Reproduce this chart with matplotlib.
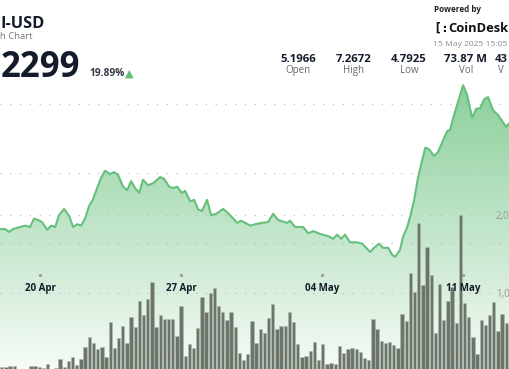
import numpy as np
import matplotlib
matplotlib.use("Agg")
import matplotlib.pyplot as plt
from matplotlib.colors import to_rgb

W, H = 510, 369

# price line: time in days since 18 Apr 00:00, price in USD
price_t = [0.01, 0.26, 0.46, 0.66, 1.01, 1.26, 1.50, 1.70, 1.90, 2.10, 2.35, 2.55,
           2.75, 2.94, 3.19, 3.44, 3.64, 3.84, 4.04, 4.23, 4.43, 4.63, 4.83, 5.03,
           5.23, 5.48, 5.67, 5.87, 6.12, 6.32, 6.52, 6.72, 6.92, 7.11, 7.36, 7.61,
           7.81, 7.96, 8.16, 8.41, 8.60, 8.80, 9.05, 9.20, 9.45, 9.65, 9.85, 10.04,
           10.29, 10.49, 10.74, 11.09, 11.33, 11.53, 11.78, 11.98, 12.18, 12.43,
           12.68, 13.02, 13.32, 13.57, 13.82, 14.26, 14.41, 14.66, 15.06, 15.31,
           15.56, 16.00, 16.30, 16.55, 16.75, 16.95, 17.14, 17.39, 17.74, 17.99,
           18.39, 18.58, 18.83, 19.03, 19.28, 19.48, 19.63, 19.87, 20.02, 20.22,
           20.42, 20.57, 20.77, 20.97, 21.12, 21.31, 21.56, 21.76, 22.01, 22.21,
           22.36, 22.51, 22.75, 23.00, 23.20, 23.45, 23.65, 23.85, 24.05, 24.24,
           24.49, 24.74, 25.14, 25.34]
price_p = [5.20, 5.20, 5.16, 5.20, 5.23, 5.25, 5.23, 5.35, 5.33, 5.30, 5.19, 5.25,
           5.23, 5.40, 5.49, 5.39, 5.23, 5.27, 5.25, 5.35, 5.53, 5.63, 5.79, 5.94,
           6.04, 5.99, 6.02, 5.98, 5.81, 5.76, 5.89, 5.79, 5.72, 5.91, 5.83, 5.86,
           5.91, 5.95, 5.92, 5.81, 5.79, 5.81, 5.72, 5.75, 5.60, 5.62, 5.48, 5.46,
           5.62, 5.40, 5.42, 5.49, 5.43, 5.37, 5.29, 5.32, 5.29, 5.25,
           5.27, 5.29, 5.30, 5.42, 5.33, 5.29, 5.32, 5.23, 5.23, 5.14,
           5.17, 5.12, 5.10, 5.06, 5.12, 5.06, 5.12, 5.01, 5.01, 4.99,
           4.87, 4.93, 4.99, 4.93, 4.93, 4.83, 4.80, 4.90, 5.09, 5.22,
           5.43, 5.62, 5.95, 6.19, 6.37, 6.35, 6.25, 6.31, 6.48, 6.61,
           6.63, 6.80, 7.03, 7.27, 7.13, 6.80, 6.93, 6.94, 7.07, 7.10,
           6.91, 6.84, 6.67, 6.74]

# volume per bar, millions
vol_m = [0.055, 0.051, 0.064, 0.068, 0.026, 0.029, 0.029, 0.064, 0.068, 0.051,
         0.038, 0.090, 0.026, 0.038, 0.154, 0.055, 0.132, 0.179, 0.081, 0.154,
         0.308, 0.440, 0.363, 0.282, 0.312, 0.183, 0.632, 0.299, 0.423, 0.577,
         0.363, 0.696, 0.568, 0.901, 0.718, 0.919, 1.145, 0.560, 0.718, 0.663,
         0.663, 0.663, 0.453, 0.837, 0.192, 0.342, 0.299, 0.547, 0.953, 0.753,
         0.996, 1.060, 0.833, 0.760, 0.654, 0.760, 0.560, 0.235, 0.141, 0.218,
         0.645, 0.355, 0.535, 0.491, 0.676, 0.855, 0.538, 0.581, 0.577, 0.760,
         0.632, 0.346, 0.176, 0.196, 0.256, 0.376, 0.141, 0.346, 0.086, 0.099,
         0.094, 0.321, 0.227, 0.286, 0.299, 0.286, 0.244, 0.163, 0.141, 0.671,
         0.538, 0.385, 0.355, 0.376, 0.333, 0.291, 0.731, 0.641, 1.253, 1.017,
         1.901, 1.103, 1.586, 1.231, 0.491, 1.112, 0.654, 0.901, 1.081, 0.619,
         2.000, 0.868, 0.696, 0.432, 0.218, 0.654, 0.590, 0.718, 0.888, 0.513,
         0.731, 0.619, 0.760]
vol_t0, vol_dt = 0.098, 0.207

date_ticks = [2, 9, 16, 23]
date_labels = ["20 Apr", "27 Apr", "04 May", "11 May"]
price_grid = [5, 6, 7]
vol_grid = [1, 2]
vol_grid_labels = ["1,0", "2,0"]

stat_values = ["5.1966", "7.2672", "4.7925", "73.87 M"]
stat_names = ["Open", "High", "Low", "Vol"]

plt.rcParams["font.family"] = ["Open Sans", "DejaVu Sans"]

GREEN = "#66c07b"
DARK = "#141b2b"
GREY = "#7a7a7a"

xlim = (0.01, 25.33)
plim = (3.187, 8.496)
vlim = (0.026, 4.756)


def fx(x):
    return x / W


def fy(y):
    return 1 - y / H


fig = plt.figure(figsize=(W / 100, H / 100), dpi=100)
fig.patch.set_facecolor("white")

ax = fig.add_axes([0, 0, 1, 1])
axv = fig.add_axes([0, 0, 1, 1])
axl = fig.add_axes([0, 0, 1, 1])
for a in (ax, axv, axl):
    a.set_xlim(*xlim)
    for s in a.spines.values():
        s.set_visible(False)
    a.tick_params(length=0, labelleft=False, labelbottom=False)
    a.set_xticks([])
    a.set_yticks([])
for a in (axv, axl):
    a.patch.set_visible(False)

# gradient area under the price line
t = np.array(price_t)
p = np.array(price_p)
n = 256
rgba = np.zeros((n, 1, 4))
rgba[..., :3] = to_rgb(GREEN)
rgba[..., 3] = np.linspace(0.06, 0.97, n)[:, None]
img = ax.imshow(rgba, extent=[xlim[0], xlim[1], plim[0], plim[1]],
                origin="lower", aspect="auto", zorder=1, interpolation="bilinear")
poly = ax.fill_between(t, p, plim[0], facecolor="none", edgecolor="none")
img.set_clip_path(poly.get_paths()[0], transform=ax.transData)
ax.set_xlim(*xlim)
ax.set_ylim(*plim)
ax.set_yticks(price_grid)
ax.grid(axis="y", color="#b8b8b8", linewidth=0.8, linestyle=(0, (1, 7.8)))
ax.set_axisbelow(False)

# volume bars
vol_t = vol_t0 + vol_dt * np.arange(len(vol_m))
axv.set_ylim(*vlim)
axv.set_yticks(vol_grid)
axv.grid(axis="y", color="#b8b8b8", linewidth=0.8, linestyle=(0, (1, 7.8)))
axv.set_axisbelow(True)
axv.bar(vol_t, vol_m, width=vol_dt * 0.8, color="#6b7569",
        edgecolor="#b3bbb2", linewidth=0.4, zorder=2)
for v, lab in zip(vol_grid, vol_grid_labels):
    axv.text(496 / W, v, lab, transform=axv.get_yaxis_transform(),
             ha="left", va="center_baseline", fontsize=7, color="#9a9a9a")

# price line
axl.set_ylim(*plim)
axl.plot(t, p, color=GREEN, linewidth=1.5, solid_joinstyle="round", zorder=3)
axl.plot(date_ticks, [fy(275)] * len(date_ticks), ls="none", marker="o",
         ms=1.3, color="#9a9a9a", transform=axl.get_xaxis_transform())
for d, lab in zip(date_ticks, date_labels):
    axl.text(d, fy(291), lab, transform=axl.get_xaxis_transform(),
             ha="center", va="baseline", fontsize=7, fontweight="bold", color=DARK)

# header
fig.text(fx(0), fy(28.3), "I-USD", fontsize=11.8, fontweight="bold", color=DARK,
         ha="left", va="baseline")
fig.text(fx(0), fy(39.3), "h Chart", fontsize=6.8, color=GREY, ha="left", va="baseline")
fig.text(fx(0.5), fy(76.7), "2299", fontsize=25, fontweight="bold", color=DARK,
         ha="left", va="baseline")
fig.text(fx(89), fy(76), "19.89%", fontsize=7.3, fontweight="bold", color="#333a44",
         ha="left", va="baseline")
fig.text(fx(129.5), fy(77), "\u25b2", fontsize=8, color="#5cbf6b",
         ha="center", va="baseline", family="DejaVu Sans")

fig.text(fx(434), fy(12), "Powered by", fontsize=5.9, fontweight="bold", color="#222",
         ha="left", va="baseline")
fig.text(fx(433), fy(31.7), "[:", fontsize=9.5, fontweight="bold", color="#111",
         ha="left", va="baseline", family="DejaVu Sans Mono")
fig.text(fx(448), fy(31.7), "CoinDesk", fontsize=9.3, fontweight="bold", color="#111",
         ha="left", va="baseline")
fig.text(fx(433), fy(46.5), "15 May 2025 15:05", fontsize=6.1, color="#8a8a8a",
         ha="left", va="baseline")

stat_x = [298, 354, 409, 466]
for xc, val, name in zip(stat_x, stat_values, stat_names):
    fig.text(fx(xc), fy(62.5), val, fontsize=8.2, fontweight="bold", color=DARK,
             ha="center", va="baseline")
    fig.text(fx(xc), fy(73), name, fontsize=7, color="#666", ha="center", va="baseline")
fig.text(fx(495), fy(62.5), "43", fontsize=8.2, fontweight="bold", color=DARK,
         ha="left", va="baseline")
fig.text(fx(498), fy(73), "V", fontsize=7, color="#666", ha="left", va="baseline")

fig.savefig("out.png", dpi=100)
